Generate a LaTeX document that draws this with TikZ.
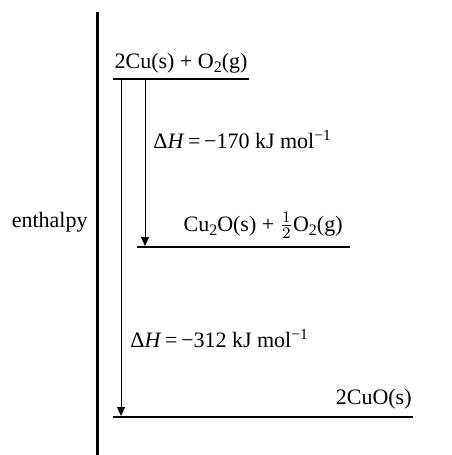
\documentclass[tikz,border=0pt]{standalone}
\usepackage{fontspec}
\setmainfont{Liberation Serif}
\usepackage{amsmath}
\usetikzlibrary{arrows.meta}

\newcommand{\lowsub}[1]{\raisebox{-0.45ex}{\fontsize{8}{9}\selectfont #1}}

\begin{document}
\begin{tikzpicture}[x=0.5pt, y=-0.5pt, font=\fontsize{11}{13}\selectfont,
    level/.style={line width=0.6pt},
    drop/.style={line width=0.5pt, -{Triangle[length=4.5pt,width=4pt]}},
    lbl/.style={inner sep=0pt}]

    \useasboundingbox (0,0) rectangle (451,455);

    % Axis
    \coordinate (axtop) at (97,12);
    \coordinate (axbot) at (97,455);
    \draw[line width=1.5pt] (axtop) -- (axbot);
    \node[lbl, anchor=base east] (enth) at (88,227) {enthalpy};

    % Levels
    \coordinate (topL) at (113,79);
    \coordinate (topR) at (249,79);
    \coordinate (midL) at (137,247);
    \coordinate (midR) at (350,247);
    \coordinate (botL) at (113,417);
    \coordinate (botR) at (413,417);
    \draw[level] (topL) -- (topR);
    \draw[level] (midL) -- (midR);
    \draw[level] (botL) -- (botR);

    % Level labels
    \node[lbl, anchor=base] (react) at (181,68) {2Cu(s) + O\lowsub{2}(g)};
    \node[lbl, anchor=base east] (inter) at (343,231)
        {Cu\lowsub{2}O(s) + $\tfrac{1}{2}$O\lowsub{2}(g)};
    \node[lbl, anchor=base east] (prod) at (412,404) {2CuO(s)};

    % Enthalpy changes
    \coordinate (a1s) at (145,79);
    \coordinate (a1e) at (145,246);
    \coordinate (a2s) at (121,79);
    \coordinate (a2e) at (121,416);
    \draw[drop] (a1s) -- (a1e);
    \draw[drop] (a2s) -- (a2e);

    \node[lbl, anchor=base west] (dh1) at (153,148)
        {Δ\textit{H}\,=\,−170 kJ mol\textsuperscript{−1}};
    \node[lbl, anchor=base west] (dh2) at (130,347)
        {Δ\textit{H}\,=\,−312 kJ mol\textsuperscript{−1}};

\end{tikzpicture}
\end{document}
